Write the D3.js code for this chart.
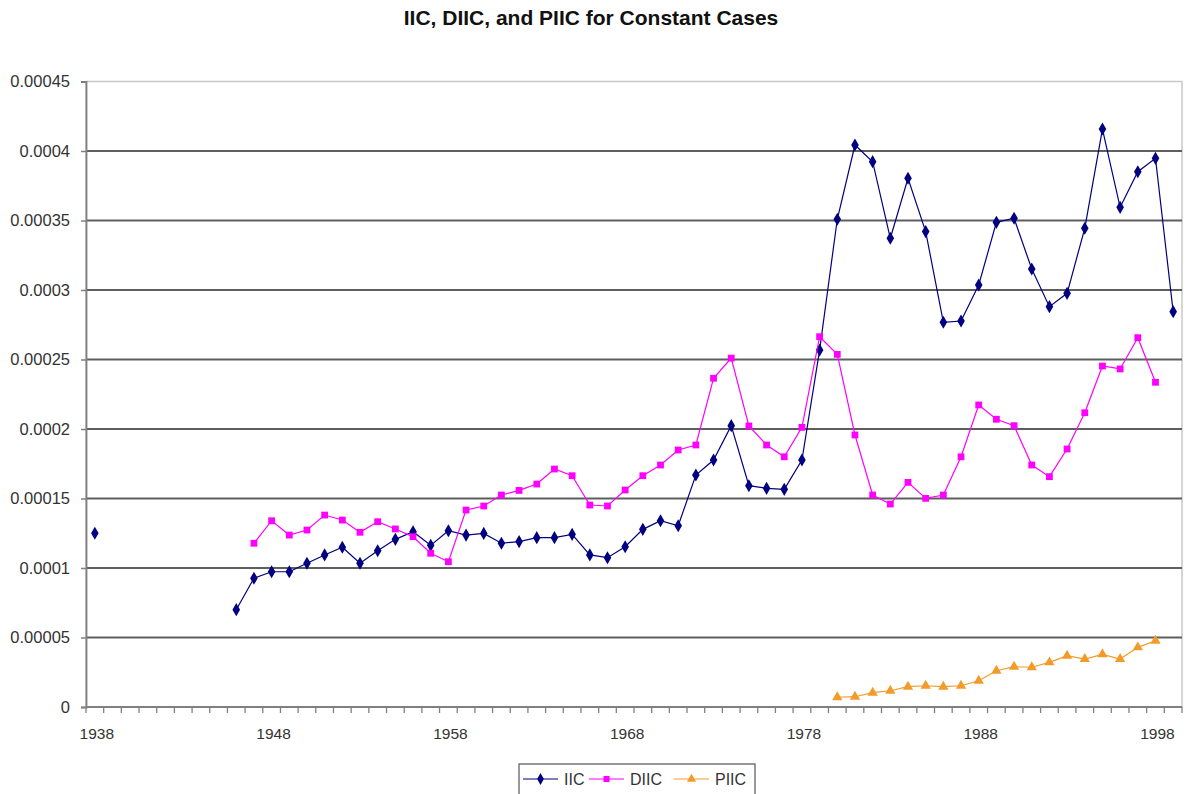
<!DOCTYPE html>
<html>
<head>
<meta charset="utf-8">
<script src="https://cdn.jsdelivr.net/npm/d3@7"></script>
<style>
  html, body { margin: 0; padding: 0; background: #fff; }
  svg { display: block; }
  text { font-family: "Liberation Sans", Arial, sans-serif; }
</style>
</head>
<body>
<svg id="chart" width="1186" height="794"></svg>
<script>
// ---- data ----
const years = d3.range(1938, 2000);
const xTickLabels = ["1938", "1948", "1958", "1968", "1978", "1988", "1998"];
const yTicks = [0, 0.00005, 0.0001, 0.00015, 0.0002, 0.00025, 0.0003, 0.00035, 0.0004, 0.00045];
const yTickLabels = ["0", "0.00005", "0.0001", "0.00015", "0.0002", "0.00025", "0.0003", "0.00035", "0.0004", "0.00045"];
const seriesNames = ["IIC", "DIIC", "PIIC"];

const iic = [
  0.0001250, null, null, null, null, null, null, null,
  0.0000700, 0.0000926, 0.0000973, 0.0000973, 0.0001034, 0.0001094, 0.0001149, 0.0001034,
  0.0001124, 0.0001206, 0.0001261, 0.0001163, 0.0001268, 0.0001237, 0.0001249, 0.0001178,
  0.0001190, 0.0001218, 0.0001218, 0.0001242, 0.0001094, 0.0001074, 0.0001153, 0.0001278,
  0.0001340, 0.0001304, 0.0001669, 0.0001777, 0.0002024, 0.0001592, 0.0001573, 0.0001566,
  0.0001777, 0.0002568, 0.0003509, 0.0004043, 0.0003923, 0.0003372, 0.0003804, 0.0003420,
  0.0002768, 0.0002777, 0.0003036, 0.0003487, 0.0003516, 0.0003151, 0.0002880, 0.0002976,
  0.0003444, 0.0004158, 0.0003595, 0.0003851, 0.0003947, 0.0002844
];
const diic = [
  null, null, null, null, null, null, null, null, null,
  0.0001178, 0.0001340, 0.0001237, 0.0001273, 0.0001381, 0.0001345, 0.0001257, 0.0001333,
  0.0001281, 0.0001225, 0.0001106, 0.0001045, 0.0001417, 0.0001446, 0.0001525, 0.0001558,
  0.0001604, 0.0001712, 0.0001664, 0.0001453, 0.0001446, 0.0001561, 0.0001664, 0.0001741,
  0.0001849, 0.0001885, 0.0002365, 0.0002510, 0.0002022, 0.0001885, 0.0001800, 0.0002012,
  0.0002664, 0.0002537, 0.0001957, 0.0001525, 0.0001460, 0.0001616, 0.0001501, 0.0001525,
  0.0001800, 0.0002173, 0.0002070, 0.0002024, 0.0001741, 0.0001657, 0.0001856, 0.0002117,
  0.0002453, 0.0002432, 0.0002657, 0.0002336, null
];
const piic = [
  null, null, null, null, null, null, null, null, null, null,
  null, null, null, null, null, null, null, null, null, null,
  null, null, null, null, null, null, null, null, null, null,
  null, null, null, null, null, null, null, null, null, null,
  null, null,
  0.0000070, 0.0000074, 0.0000103, 0.0000117, 0.0000146, 0.0000153, 0.0000146, 0.0000153,
  0.0000189, 0.0000261, 0.0000290, 0.0000286, 0.0000321, 0.0000369, 0.0000345, 0.0000379,
  0.0000345, 0.0000429, 0.0000477, null
];

// ---- layout ----
const plot = { left: 86, right: 1182, top: 81.5, bottom: 707 };
const svg = d3.select("#chart");

const x = d3.scaleBand().domain(years).range([plot.left, plot.right]).padding(0);
const cx = d => x(d) + x.bandwidth() / 2;
const y = d3.scaleLinear().domain([0, 0.00045]).range([plot.bottom, plot.top]);

// title
svg.append("text")
  .attr("x", 591).attr("y", 25)
  .attr("text-anchor", "middle")
  .attr("font-size", 21).attr("font-weight", "bold").attr("fill", "#111")
  .text("IIC, DIIC, and PIIC for Constant Cases");

// plot border (top/right lighter)
svg.append("rect")
  .attr("x", plot.left).attr("y", plot.top)
  .attr("width", plot.right - plot.left).attr("height", plot.bottom - plot.top)
  .attr("fill", "none").attr("stroke", "#c8c8c8").attr("stroke-width", 1.5);

// gridlines
svg.append("g").selectAll("line")
  .data(yTicks.filter(v => v > 0 && v < 0.00045))
  .join("line")
  .attr("x1", plot.left).attr("x2", plot.right)
  .attr("y1", d => y(d)).attr("y2", d => y(d))
  .attr("stroke", "#5e5e5e").attr("stroke-width", 1.8);

// y axis
const yAxis = d3.axisLeft(y)
  .tickValues(yTicks)
  .tickSize(5)
  .tickPadding(11)
  .tickFormat((d, i) => yTickLabels[i]);
const gy = svg.append("g").attr("transform", `translate(${plot.left},0)`).call(yAxis);
gy.select(".domain").attr("stroke", "#808080").attr("stroke-width", 1.8);
gy.selectAll(".tick line").attr("stroke", "#808080").attr("stroke-width", 1.5);
gy.selectAll(".tick text").attr("font-size", 16.5).attr("fill", "#333")
  .attr("font-family", "Liberation Sans, Arial, sans-serif");

// x axis (category axis, tick marks between categories)
const gx = svg.append("g").attr("transform", `translate(0,${plot.bottom})`);
gx.append("line").attr("x1", plot.left).attr("x2", plot.right)
  .attr("y1", 0).attr("y2", 0).attr("stroke", "#808080").attr("stroke-width", 1.8);
const boundaries = years.map(d => x(d)).concat([plot.right]);
gx.selectAll("line.tk").data(boundaries).join("line").attr("class", "tk")
  .attr("x1", d => d).attr("x2", d => d).attr("y1", 0).attr("y2", 6)
  .attr("stroke", "#808080").attr("stroke-width", 1.3);
gx.selectAll("text").data(xTickLabels).join("text")
  .attr("x", d => cx(+d) + 2).attr("y", 32)
  .attr("text-anchor", "middle").attr("font-size", 15.5).attr("fill", "#333")
  .text(d => d);

// series
const series = [
  { name: "IIC", values: iic, color: "#000080", shape: d3.symbolDiamond, size: 50 },
  { name: "DIIC", values: diic, color: "#FF00FF", shape: d3.symbolSquare, size: 46 },
  { name: "PIIC", values: piic, color: "#F39B2A", shape: d3.symbolTriangle, size: 46 }
];

const line = d3.line()
  .defined(d => d.v != null)
  .x(d => cx(d.year)).y(d => y(d.v));

series.forEach(s => {
  const pts = years.map((yr, i) => ({ year: yr, v: s.values[i] }));
  svg.append("path").datum(pts)
    .attr("d", line).attr("fill", "none")
    .attr("stroke", s.color).attr("stroke-width", 1.2);
  svg.append("g").selectAll("path")
    .data(pts.filter(d => d.v != null))
    .join("path")
    .attr("transform", d => `translate(${cx(d.year)},${y(d.v)})`)
    .attr("d", d3.symbol().type(s.shape).size(s.size))
    .attr("fill", s.color);
});

// legend
const lg = svg.append("g");
lg.append("rect").attr("x", 519).attr("y", 764).attr("width", 236).attr("height", 40)
  .attr("fill", "#fff").attr("stroke", "#555").attr("stroke-width", 1.2);
const legendX = [523, 589, 674];
series.forEach((s, i) => {
  const x0 = legendX[i];
  lg.append("line").attr("x1", x0).attr("x2", x0 + 35).attr("y1", 779).attr("y2", 779)
    .attr("stroke", s.color).attr("stroke-width", 1.2);
  lg.append("path").attr("transform", `translate(${x0 + 17.5},779)`)
    .attr("d", d3.symbol().type(s.shape).size(s.size * 0.8)).attr("fill", s.color);
  lg.append("text").attr("x", x0 + 41).attr("y", 785)
    .attr("font-size", 16).attr("fill", "#333").text(seriesNames[i]);
});
</script>
</body>
</html>
